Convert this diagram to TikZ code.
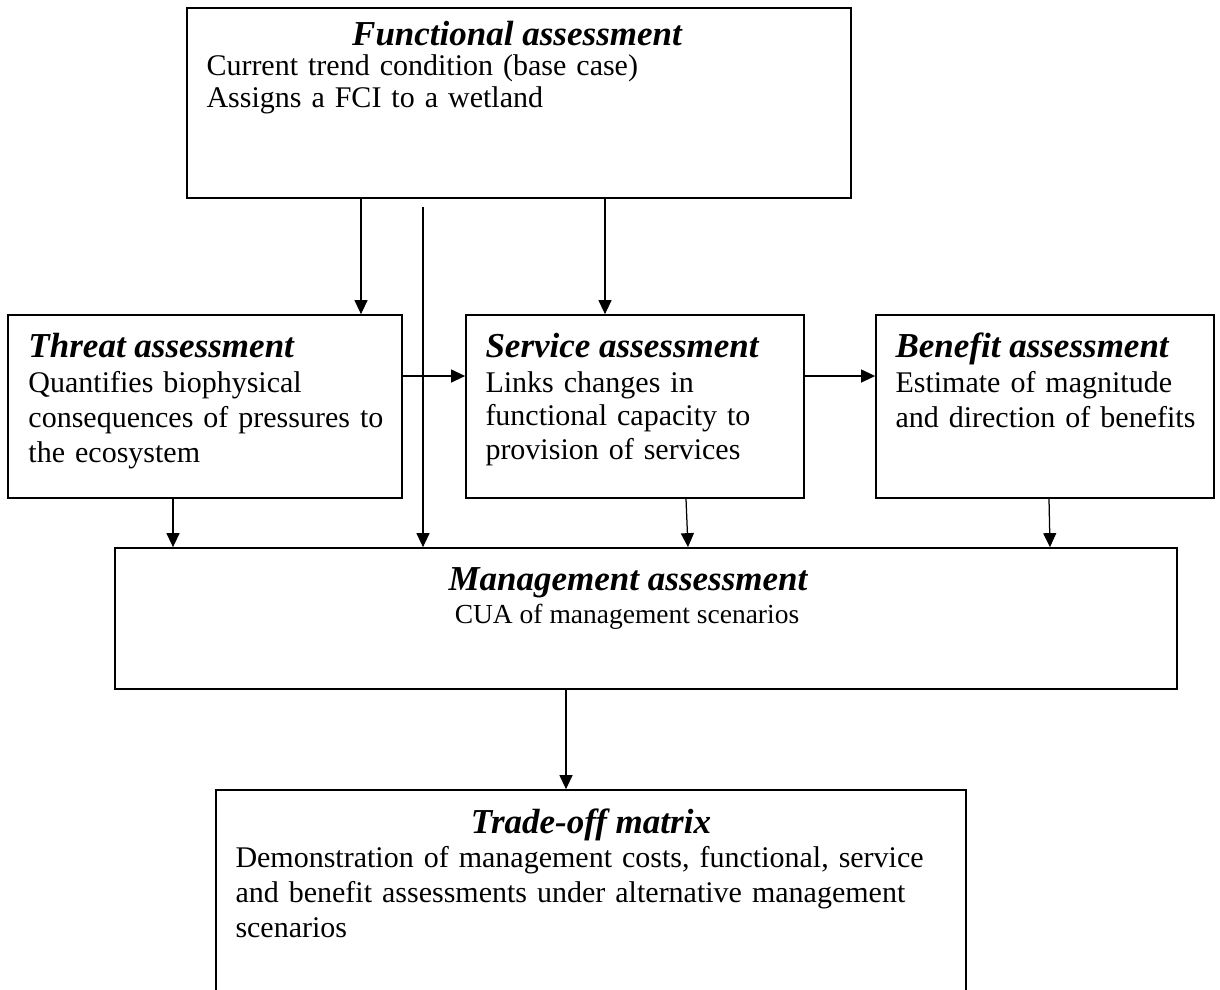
\documentclass[tikz,border=0pt]{standalone}
\usepackage{fontspec}
\setmainfont{Liberation Serif}
\usetikzlibrary{arrows.meta}

\tikzset{
  box/.style={draw, line width=0.7pt, inner sep=0pt},
  head/.style={font=\fontsize{14}{16}\selectfont\bfseries\itshape, inner sep=0pt},
  body/.style={font=\fontsize{12}{14}\selectfont, align=left, text width=#1, inner sep=0pt, anchor=base west},
  body/.default=150pt,
  link/.style={-{Triangle[length=5.6pt,width=5.2pt]}, line width=0.5pt}
}

\begin{document}
\begin{tikzpicture}[x=0.4pt, y=-0.4pt]
\clip (0,0) rectangle (1220,989);

\node[box, minimum width=265.6pt, minimum height=76pt] (func) at (519,103) {};
\node[head, anchor=base] (functitle) at (517,45) {Functional assessment};
\node[body=250pt, font=\fontsize{12}{12.8}\selectfont] (functext) at (206,75)
	{Current trend condition (base case)\\Assigns a FCI to a wetland};

\node[box, minimum width=157.6pt, minimum height=73.2pt] (threat) at (205,406.5) {};
\node[head, anchor=base west] (threattitle) at (28,357) {Threat assessment};
\node[body] (threattext) at (28,392)
	{Quantifies biophysical\\consequences of pressures to\\the ecosystem};

\node[box, minimum width=135.2pt, minimum height=73.2pt] (service) at (635,406.5) {};
\node[head, anchor=base west] (servicetitle) at (485,357) {Service assessment};
\node[body=125pt, font=\fontsize{12}{13.4}\selectfont] (servicetext) at (485,392)
	{Links changes in\\functional capacity to\\provision of services};

\node[box, minimum width=135.2pt, minimum height=73.2pt] (benefit) at (1045,406.5) {};
\node[head, anchor=base west] (benefittitle) at (895,357) {Benefit assessment};
\node[body=125pt] (benefittext) at (895,392)
	{Estimate of magnitude\\and direction of benefits};

\node[box, minimum width=424.8pt, minimum height=56.4pt] (mgmt) at (646,618.5) {};
\node[head, anchor=base] (mgmttitle) at (628,590) {Management assessment};
\node[font=\fontsize{11}{13}\selectfont, inner sep=0pt, anchor=base] (mgmttext) at (627,623)
	{CUA of management scenarios};

\node[box, minimum width=300pt, minimum height=88pt] (tradeoff) at (591,900) {};
\node[head, anchor=base] (tradeofftitle) at (591,833) {Trade-off matrix};
\node[body=285pt] (tradeofftext) at (235,867)
	{Demonstration of management costs, functional, service\\and benefit assessments under alternative management\\scenarios};

\coordinate (fcitap) at (423,207);

\draw[link] (361,0 |- func.south) -- (361,0 |- threat.north);
\draw[link] (605,0 |- func.south) -- (605,0 |- service.north);
\draw[link] (fcitap) -- (fcitap |- mgmt.north);
\draw[link] (threat.east |- 0,376) -- (service.west |- 0,376);
\draw[link] (service.east |- 0,376) -- (benefit.west |- 0,376);
\draw[link] (173,0 |- threat.south) -- (173,0 |- mgmt.north);
\draw[link] (686,0 |- service.south) -- (688,0 |- mgmt.north);
\draw[link] (1049,0 |- benefit.south) -- (1050,0 |- mgmt.north);
\draw[link] (566,0 |- mgmt.south) -- (566,0 |- tradeoff.north);
%\draw (current bounding box.south west) rectangle (current bounding box.north east);
\end{tikzpicture}
\end{document}
